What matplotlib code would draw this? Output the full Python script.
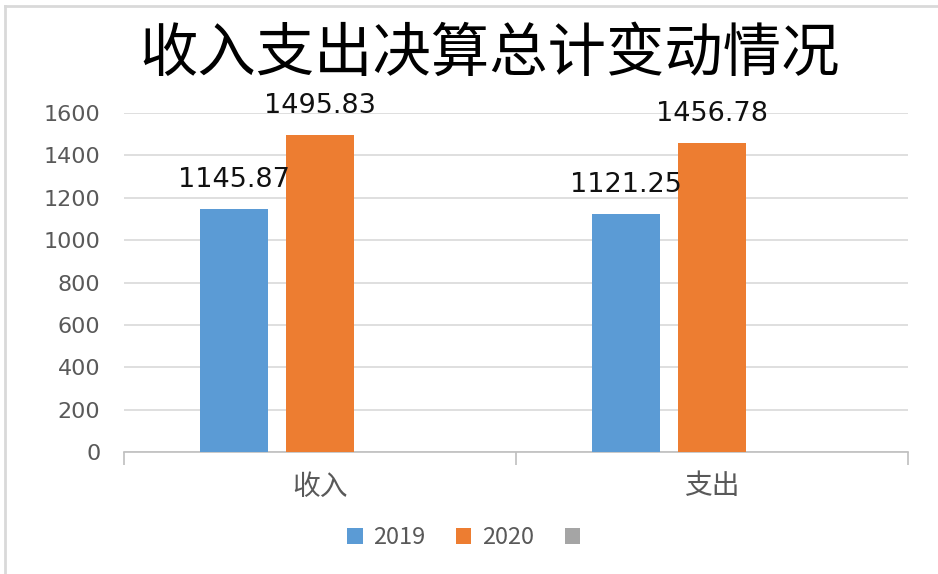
import matplotlib
matplotlib.use("Agg")
import matplotlib.pyplot as plt
import numpy as np
from matplotlib.lines import Line2D
from matplotlib.patches import Patch

plt.rcParams["font.family"] = ["Noto Sans CJK SC", "DejaVu Sans"]

title = "收入支出决算总计变动情况"
categories = ["收入", "支出"]
series_names = ["2019", "2020", ""]
values_2019 = [1145.87, 1121.25]
values_2020 = [1495.83, 1456.78]
values_empty = [np.nan, np.nan]
y_ticks = [0, 200, 400, 600, 800, 1000, 1200, 1400, 1600]

colors = ["#5B9BD5", "#ED7D31", "#A5A5A5"]
text_grey = "#595959"
grid_grey = "#D9D9D9"

fig = plt.figure(figsize=(9.38, 5.74), dpi=100)
ax = fig.add_axes([0.1322, 0.2125, 0.836, 0.5906])

x = np.arange(len(categories))
step = 0.22
width = 0.174
all_series = [values_2019, values_2020, values_empty]
for i, (vals, col) in enumerate(zip(all_series, colors)):
    pos = x + (i - 1) * step
    ax.bar(pos, vals, width=width, color=col, zorder=3)
    for px, v in zip(pos, vals):
        if np.isfinite(v):
            ax.annotate(f"{v:.2f}", (px, v), xytext=(0, 21), textcoords="offset points",
                        ha="center", va="center", fontsize=19.5, color="#111111",
                        family="DejaVu Sans", zorder=4)

ax.set_xlim(-0.5, len(categories) - 0.5)
ax.set_ylim(0, 1600)
ax.set_yticks(y_ticks)
ax.set_yticklabels([str(t) for t in y_ticks], family="DejaVu Sans", fontsize=16, color=text_grey)
ax.tick_params(axis="y", length=0, pad=17)
ax.grid(axis="y", color=grid_grey, linewidth=1.2, zorder=0)

ax.set_xticks(x)
ax.set_xticklabels(categories, fontsize=20, color=text_grey)
ax.set_xticks([-0.5, 0.5, 1.5], minor=True)
ax.tick_params(axis="x", which="major", length=0, pad=14)
ax.tick_params(axis="x", which="minor", length=9, color="#BFBFBF", width=1.2)

for s in ["top", "right", "left"]:
    ax.spines[s].set_visible(False)
ax.spines["bottom"].set_color("#BFBFBF")
ax.spines["bottom"].set_linewidth(1.2)

fig.text(0.522, 0.905, title, ha="center", va="center", fontsize=42,
         fontweight="light", color="black")

handles = [Patch(facecolor=c, edgecolor="none") for c in colors]
fig.legend(handles, series_names, loc="center", bbox_to_anchor=(0.50, 0.063), ncol=3,
           frameon=False, fontsize=17, handlelength=0.65, handleheight=0.65,
           handletextpad=0.45, columnspacing=1.3, labelcolor=text_grey)

# outer frame (top and left edges visible)
fig.add_artist(Line2D([0.0053, 1.0], [0.9895, 0.9895], color=grid_grey, linewidth=2))
fig.add_artist(Line2D([0.0053, 0.0053], [0.0, 0.9895], color=grid_grey, linewidth=2))

fig.savefig("out.png", dpi=100)
